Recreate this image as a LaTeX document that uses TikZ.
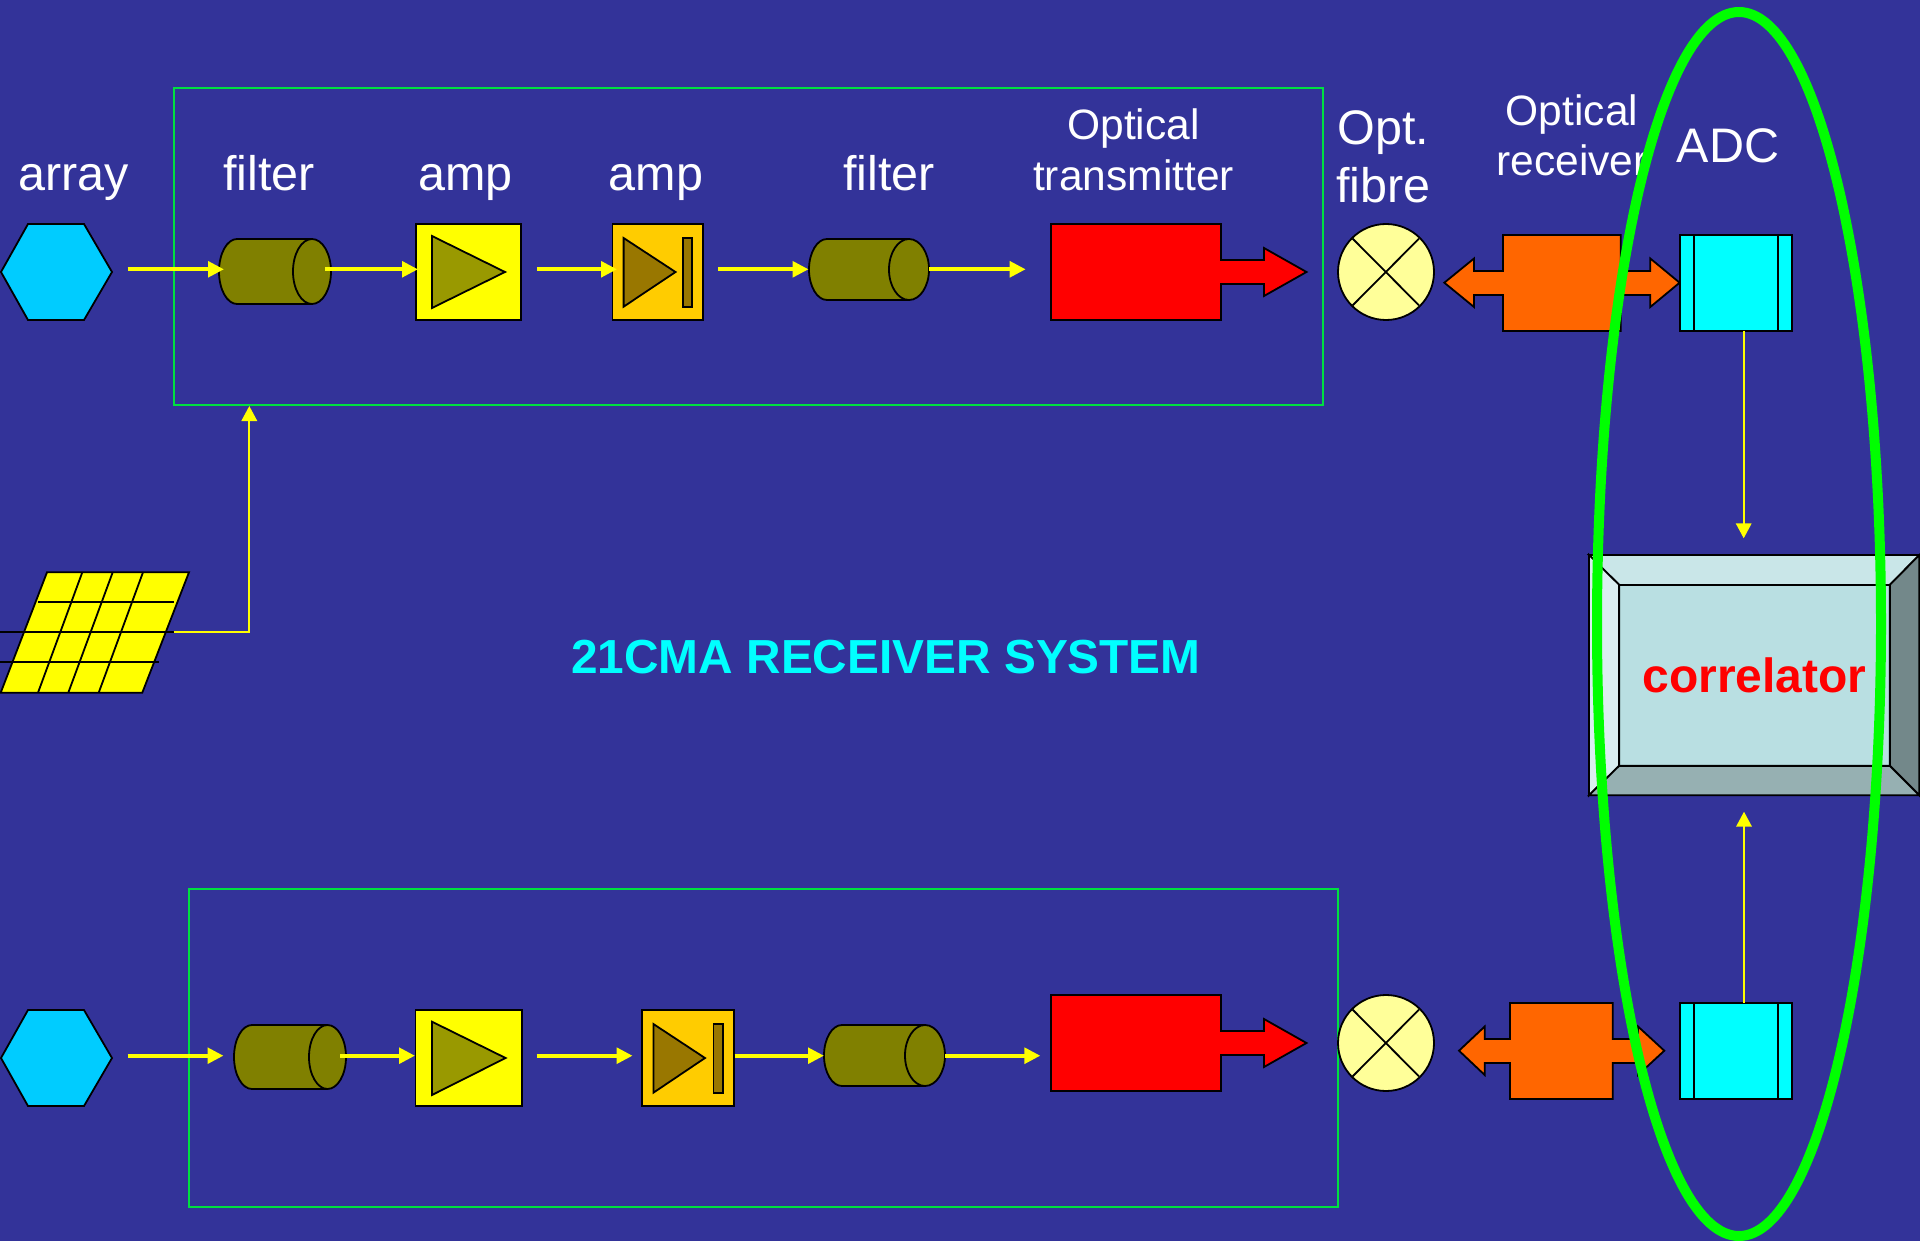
\documentclass[tikz,border=0pt]{standalone}
\usepackage{fontspec}
\setmainfont{Liberation Sans}
\usetikzlibrary{arrows.meta}
\definecolor{bgblue}{HTML}{333399}
\definecolor{hexblue}{HTML}{00CCFF}
\definecolor{olive2}{HTML}{808000}
\definecolor{trione}{HTML}{999900}
\definecolor{tritwo}{HTML}{997700}
\definecolor{ampgold}{HTML}{FFCC00}
\definecolor{orng}{HTML}{FF6600}
\definecolor{pale}{HTML}{FFFF99}
\definecolor{boxgreen}{HTML}{00E040}
\definecolor{lime2}{HTML}{00FF00}
\definecolor{corface}{HTML}{B9DFE2}
\definecolor{cortop}{HTML}{C9E6E8}
\definecolor{corleft}{HTML}{DAEEF0}
\definecolor{corright}{HTML}{73888A}
\definecolor{corbottom}{HTML}{96B0B2}
\definecolor{pureyellow}{HTML}{FFFF00}
\definecolor{purecyan}{HTML}{00FFFF}
\definecolor{purered}{HTML}{FF0000}
\tikzset{
  outl/.style={draw=black,line width=1.8pt,line join=miter},
  blk/.style={outl,rectangle,inner sep=0pt,outer sep=0pt,anchor=center},
  ghost/.style={rectangle,inner sep=0pt,outer sep=0pt,anchor=center},
  frame/.style={draw=boxgreen,line width=2pt,rectangle,inner sep=0pt,outer sep=0pt,anchor=center},
  lab/.style={text=white,anchor=base,inner sep=0pt,outer sep=0pt,font=\fontsize{48.5}{48.5}\selectfont},
  labs/.style={text=white,anchor=base,inner sep=0pt,outer sep=0pt,font=\fontsize{42.5}{42.5}\selectfont},
  flow/.style={draw=pureyellow,line width=4pt,-{Triangle[length=16pt,width=15.5pt]}},
  flowthin/.style={draw=pureyellow,line width=2pt,-{Triangle[length=15pt,width=15.5pt]}},
}
% #1 name, #2 left, #3 right, #4 top, #5 bottom, #6 cap half width
\newcommand\cylshape[6]{%
  \node[ghost,minimum width=#3pt-#2pt,minimum height=#5pt-#4pt] (#1) at ({(#2+#3)/2},{(#4+#5)/2}) {};
  \draw[outl,fill=olive2] ({#2+18},{(#4+#5)/2}) ellipse [x radius=18pt,y radius={(#5-#4)/2*1pt}];
  \fill[olive2] ({#2+18},#4) rectangle ({#3-#6},#5);
  \draw[outl] ({#2+18},#4) -- ({#3-#6},#4) ({#2+18},#5) -- ({#3-#6},#5);
  \draw[outl,fill=olive2] ({#3-#6},{(#4+#5)/2}) ellipse [x radius=#6pt,y radius={(#5-#4)/2*1pt}];
}
% #1 name, #2 centre y
\newcommand\hexshape[2]{%
  \node[ghost,minimum width=111pt,minimum height=96pt] (#1) at (56.5,#2) {};
  \draw[outl,fill=hexblue] (1,#2) -- (28,{#2-48}) -- (84,{#2-48}) -- (112,#2) -- (84,{#2+48}) -- (28,{#2+48}) -- cycle;
}
% #1 name, #2 centre y
\newcommand\crossshape[2]{%
  \node[ghost,minimum width=96pt,minimum height=96pt] (#1) at (1386,#2) {};
  \draw[outl,fill=pale] (1386,#2) ellipse [x radius=48pt,y radius=48pt];
  \draw[outl] (1352.6,{#2-33.4}) -- (1419,{#2+33.4}) (1419,{#2-33.4}) -- (1352.6,{#2+33.4});
}
% #1 name, #2 top y
\newcommand\txshape[2]{%
  \node[ghost,minimum width=170pt,minimum height=96pt] (#1) at (1136,{#2+48}) {};
  \draw[outl,fill=purered] (1051,#2) -- (1221,#2) -- (1221,{#2+36}) -- (1264,{#2+36}) -- (1264,{#2+24}) -- (1306.5,{#2+48}) -- (1264,{#2+72}) -- (1264,{#2+60}) -- (1221,{#2+60}) -- (1221,{#2+96}) -- (1051,{#2+96}) -- cycle;
}
% #1 name, #2 top y, #3 tipL, #4 baseL, #5 rectL, #6 rectR, #7 baseR, #8 tipR
\newcommand\rxshape[8]{%
  \node[ghost,minimum width=#6pt-#5pt,minimum height=96pt] (#1) at ({(#5+#6)/2},{#2+48}) {};
  \draw[outl,fill=orng] (#5,#2) -- (#6,#2) -- (#6,{#2+36}) -- (#7,{#2+36}) -- (#7,{#2+23.5}) -- (#8,{#2+47.7}) -- (#7,{#2+72}) -- (#7,{#2+60}) -- (#6,{#2+60}) -- (#6,{#2+96}) -- (#5,{#2+96}) -- (#5,{#2+60}) -- (#4,{#2+60}) -- (#4,{#2+72}) -- (#3,{#2+47.7}) -- (#4,{#2+23.5}) -- (#4,{#2+36}) -- (#5,{#2+36}) -- cycle;
}
% #1 name, #2 top y
\newcommand\adcshape[2]{%
  \node[blk,fill=purecyan,minimum width=112pt,minimum height=96pt] (#1) at (1736,{#2+48}) {};
  \draw[outl] (1694,#2) -- (1694,{#2+96}) (1778,#2) -- (1778,{#2+96});
}
\begin{document}
\begin{tikzpicture}[x=1pt,y=-1pt]
\useasboundingbox (0,0) rectangle (1920,1241);
\fill[bgblue] (0,0) rectangle (1920,1241);

% green frames
\node[frame,minimum width=1149pt,minimum height=317pt] (box1) at (748.5,246.5) {};
\node[frame,minimum width=1149pt,minimum height=317.7pt] (box2) at (763.5,1048.15) {};

% labels, top row
\node[lab] (larray) at (73.7,190.5) {array};
\node[lab] (lfil1) at (269,190.5) {filter};
\node[lab] (lamp1) at (465.5,190.5) {amp};
\node[lab] (lamp2) at (656,190.5) {amp};
\node[lab] (lfil2) at (889,190.5) {filter};
\node[labs] (lopt1) at (1133.5,139.5) {Optical};
\node[labs] (ltrans) at (1133.5,191) {transmitter};
\node[lab] (lopt2) at (1383.5,144.5) {Opt.};
\node[lab] (lfibre) at (1383.5,202.5) {fibre};
\node[labs] (lopt3) at (1572,125.5) {Optical};
\node[labs] (lrecv) at (1572,175.5) {receiver};
\node[lab] (ladc) at (1728,162.7) {ADC};

% top row shapes
\hexshape{hex1}{272}
\cylshape{fa1}{219}{331}{239}{304}{19}
\node[blk,fill=pureyellow,minimum width=105.4pt,minimum height=96pt] (ampa1) at (468.3,272) {};
\draw[outl,fill=trione] (432,236) -- (505,272) -- (432,308) -- cycle;
\node[blk,fill=ampgold,minimum width=90.5pt,minimum height=96pt] (ampb1) at (657.75,272) {};
\draw[outl,fill=tritwo] (623.6,238) -- (675.5,272) -- (623.6,306.7) -- cycle;
\draw[outl,fill=tritwo] (683,238) rectangle (692,306.7);
\cylshape{fb1}{809}{929}{239}{300}{20}
\txshape{tx1}{224}
\crossshape{fib1}{272}
\rxshape{rx1}{235}{1444.3}{1474}{1503}{1620.7}{1650.3}{1679.6}
\adcshape{adc1}{235}

% bottom row shapes
\hexshape{hex2}{1058}
\cylshape{fa2}{234}{346}{1025}{1089}{18.5}
\node[blk,fill=pureyellow,minimum width=106.2pt,minimum height=96pt] (ampa2) at (468.5,1058) {};
\draw[outl,fill=trione] (432,1021.7) -- (505.6,1058) -- (432,1095) -- cycle;
\node[blk,fill=ampgold,minimum width=92.2pt,minimum height=96pt] (ampb2) at (687.9,1058) {};
\draw[outl,fill=tritwo] (653.4,1024) -- (705,1058) -- (653.4,1092.7) -- cycle;
\draw[outl,fill=tritwo] (713.5,1024) rectangle (722.7,1092.7);
\cylshape{fb2}{824}{945}{1025}{1086}{20}
\txshape{tx2}{995}
\crossshape{fib2}{1043}
\rxshape{rx2}{1003}{1459}{1484.7}{1510}{1612.7}{1638}{1664.3}
\adcshape{adc2}{1003}

% tile panel
\node[ghost,minimum width=189pt,minimum height=120.4pt] (panel) at (94.5,632.5) {};
\coordinate (panelout) at (173.7,632);
\draw[outl,fill=pureyellow] (47,572.3) -- (189,572.3) -- (142.3,692.7) -- (0.7,692.7) -- cycle;
\draw[outl] (82.3,572.3) -- (38,692.7) (112.7,572.3) -- (68.3,692.7) (143,572.3) -- (98.7,692.7);
\draw[outl] (38,602) -- (173.7,602) (0,632) -- (173.7,632) (0,662.3) -- (158.7,662.3);

% correlator
\node[ghost,minimum width=330.3pt,minimum height=240.3pt] (corbox) at (1754.15,675.15) {};
\fill[corface] (1619.3,585) rectangle (1889.7,765.7);
\draw[outl,fill=cortop] (1589,555) -- (1919.3,555) -- (1889.7,585) -- (1619.3,585) -- cycle;
\draw[outl,fill=corleft] (1589,555) -- (1619.3,585) -- (1619.3,765.7) -- (1589,795.3) -- cycle;
\draw[outl,fill=corright] (1919.3,555) -- (1889.7,585) -- (1889.7,765.7) -- (1919.3,795.3) -- cycle;
\draw[outl,fill=corbottom] (1589,795.3) -- (1619.3,765.7) -- (1889.7,765.7) -- (1919.3,795.3) -- cycle;
\draw[outl] (1619.3,585) rectangle (1889.7,765.7);
\draw[draw=black,line width=2pt] (1589,555) -- (1589,795.3);
\node[text=purered,anchor=base,inner sep=0pt,font=\bfseries\fontsize{48}{48}\selectfont] (lcor) at (1754.5,692.7) {correlator};

% title
\node[text=purecyan,anchor=base,inner sep=0pt,font=\bfseries\fontsize{47.8}{48}\selectfont] (title) at (886,673) {21CMA RECEIVER SYSTEM};

% connectors, top row
\draw[flow] ([xshift=15.5pt,yshift=2.7pt]hex1.east) -- ([xshift=5pt,yshift=2.2pt]fa1.west);
\draw[flow] ([xshift=-6pt,yshift=2.2pt]fa1.east) -- ([xshift=2.4pt,yshift=2.7pt]ampa1.west);
\draw[flow] ([xshift=16pt,yshift=2.7pt]ampa1.east) -- ([xshift=4.5pt,yshift=2.7pt]ampb1.west);
\draw[flow] ([xshift=15pt,yshift=2.7pt]ampb1.east) -- ([xshift=-.4pt,yshift=.2pt]fb1.west);
\draw[flow] ([xshift=0pt,yshift=.2pt]fb1.east) -- ([xshift=-25.3pt,yshift=2.7pt]tx1.west);
\draw[flowthin] (panelout) -| ([xshift=-499.2pt,yshift=-1pt]box1.south);
\draw[flowthin] ([xshift=7.7pt]adc1.south) -- ([xshift=-10.45pt,yshift=16.7pt]corbox.north);

% connectors, bottom row
\draw[flow] ([xshift=15.5pt,yshift=2.3pt]hex2.east) -- ([xshift=-10.5pt,yshift=1.3pt]fa2.west);
\draw[flow] ([xshift=-6pt,yshift=1.3pt]fa2.east) -- ([xshift=-.4pt,yshift=2.3pt]ampa2.west);
\draw[flow] ([xshift=15pt,yshift=2.3pt]ampa2.east) -- ([xshift=-9.2pt,yshift=2.3pt]ampb2.west);
\draw[flow] ([xshift=.5pt,yshift=2.3pt]ampb2.east) -- ([xshift=0pt,yshift=-.2pt]fb2.west);
\draw[flow] ([xshift=0pt,yshift=-.2pt]fb2.east) -- ([xshift=-10.6pt,yshift=-12.7pt]tx2.west);
\draw[flowthin] ([xshift=8pt]adc2.north) -- ([xshift=-10.15pt,yshift=-16.4pt]corbox.south);

% large ring
\draw[draw=lime2,line width=10pt] (1739,624) ellipse [x radius=142pt,y radius=612pt];
\end{tikzpicture}
\end{document}
